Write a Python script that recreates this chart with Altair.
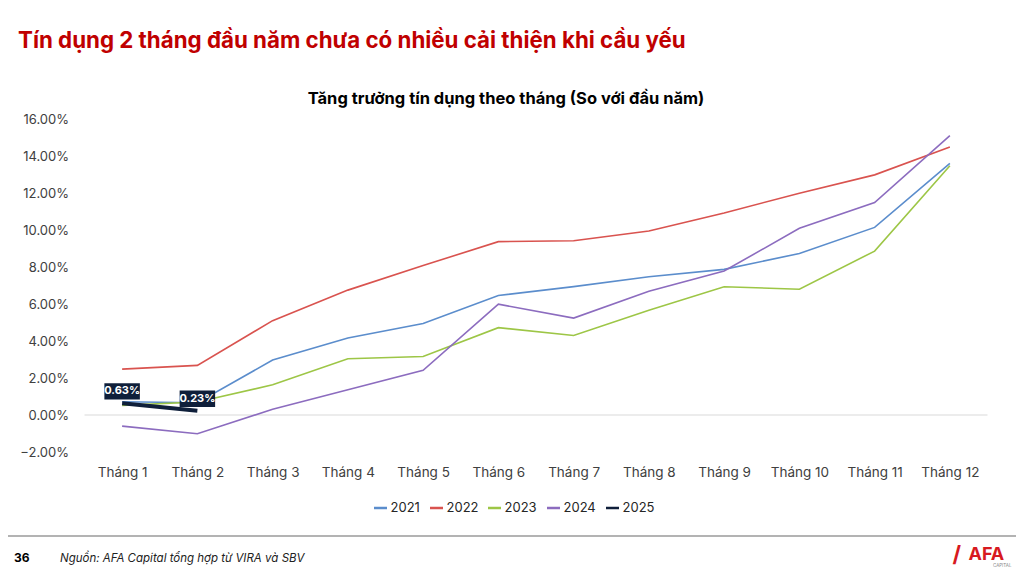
import altair as alt
import pandas as pd

months = ["Tháng 1", "Tháng 2", "Tháng 3", "Tháng 4", "Tháng 5", "Tháng 6",
          "Tháng 7", "Tháng 8", "Tháng 9", "Tháng 10", "Tháng 11", "Tháng 12"]
years = ["2021", "2022", "2023", "2024", "2025"]
v2021 = [0.72, 0.66, 2.97, 4.16, 4.95, 6.46, 6.94, 7.47, 7.87, 8.73, 10.14, 13.60]
v2022 = [2.48, 2.68, 5.10, 6.75, 8.08, 9.37, 9.42, 9.95, 10.92, 11.99, 12.98, 14.48]
v2023 = [0.52, 0.70, 1.63, 3.04, 3.16, 4.72, 4.30, 5.66, 6.93, 6.80, 8.86, 13.47]
v2024 = [-0.60, -1.01, 0.31, 1.36, 2.42, 5.99, 5.24, 6.69, 7.78, 10.09, 11.48, 15.10]
v2025 = [0.63, 0.23]
y_ticks = [-2, 0, 2, 4, 6, 8, 10, 12, 14, 16]

colors = ["#5b8dcc", "#d9534f", "#9dc646", "#8c6cbf", "#0f1f3a"]

series = [v2021, v2022, v2023, v2024, v2025]
rows = []
for yr, vals in zip(years, series):
    for m, v in zip(months, vals):
        rows.append({"year": yr, "month": m, "val": v / 100.0})
df = pd.DataFrame(rows)
df25 = df[df["year"] == "2025"].copy()
df25["label"] = [f"{v:.2f}%" for v in v2025]

FONT = "Inter"

x_axis = alt.Axis(title=None, domain=False, ticks=False, labelAngle=0,
                  labelPadding=13, labelFontSize=13.5, labelColor="#404040",
                  labelFont=FONT)
y_axis = alt.Axis(title=None, domain=False, ticks=False, grid=False,
                  values=[t / 100 for t in y_ticks], format=".2%",
                  labelOverlap=False, labelBound=False,
                  labelPadding=16, labelFontSize=13, labelColor="#404040",
                  labelFont=FONT)
x_scale = alt.Scale(type="point", padding=0.5)
y_scale = alt.Scale(domain=[-0.02, 0.16], nice=False)

def X():
    return alt.X("month:N", sort=months, scale=x_scale, axis=x_axis)

def Y():
    return alt.Y("val:Q", scale=y_scale, axis=y_axis)

zero = alt.Chart(pd.DataFrame({"val": [0.0]})).mark_rule(color="#d9d9d9", strokeWidth=1).encode(
    y=Y())

lines = alt.Chart(df).mark_line().encode(
    x=X(), y=Y(),
    color=alt.Color("year:N", scale=alt.Scale(domain=years, range=colors),
                    legend=alt.Legend(title=None, orient="none", direction="horizontal",
                                      legendX=288, legendY=381, symbolType="stroke",
                                      symbolSize=170, symbolStrokeWidth=2.5,
                                      labelFontSize=13, labelFont=FONT, labelColor="#262626",
                                      columnPadding=4, labelOffset=2)),
    strokeWidth=alt.condition(alt.datum.year == "2025", alt.value(4), alt.value(1.6)),
    detail="year:N",
)

box_shape = "M-1,-0.46H1V0.46H-1Z"
boxes = alt.Chart(df25).mark_point(shape=box_shape, size=1260, filled=True, opacity=1,
                                   color="#0f1f3a").encode(
    x=X(), y=Y(), yOffset=alt.value(-12))
labels = alt.Chart(df25).mark_text(color="white", fontWeight="bold", fontSize=11,
                                   font=FONT, dy=-12).encode(
    x=X(), y=Y(), text="label:N")

def txt(s, x, y, **kw):
    return alt.Chart(pd.DataFrame({"t": [s]})).mark_text(baseline="alphabetic", **kw).encode(
        x=alt.value(x), y=alt.value(y), text="t:N")

headline = txt("Tín dụng 2 tháng đầu năm chưa có nhiều cải thiện khi cầu yếu", -66.5, -71,
               align="left", font=FONT, fontSize=22.3, fontWeight="bold", color="#c00000")
ctitle = txt("Tăng trưởng tín dụng theo tháng (So với đầu năm)", 421.5, -15,
             align="center", font=FONT, fontSize=16.5, fontWeight="bold", color="#000000")
page = txt("36", -70.5, 443, align="left", font=FONT, fontSize=12, fontWeight="bold",
           color="#000000")
source = txt("Nguồn: AFA Capital tổng hợp từ VIRA và SBV", -24.5, 443, align="left",
             font=FONT, fontSize=11.5, fontStyle="italic", color="#222222")
logo_mark = txt("/", 868, 443, align="left", font=FONT, fontSize=22, fontWeight="bold",
                color="#d71920")
logo = txt("AFA", 884, 441, align="left", font=FONT, fontSize=18, fontWeight="bold",
           color="#d71920")
logo2 = txt("CAPITAL", 927, 448, align="right", font=FONT, fontSize=4.5, color="#888888")
footer_rule = alt.Chart(pd.DataFrame({"a": [0]})).mark_rule(color="#9a9a9a", strokeWidth=1.5).encode(
    x=alt.value(-76.5), x2=alt.value(931.5), y=alt.value(417))

chart = alt.layer(zero, lines, boxes, labels, headline, ctitle, page, source, logo_mark, logo,
                  logo2, footer_rule).properties(
    width=903, height=333,
    autosize=alt.AutoSizeParams(type="none"),
    padding={"left": 76.5, "top": 111, "right": 28.5, "bottom": 116},
    background="white",
).configure_view(stroke=None)

chart.save("out.html", embed_options={"renderer": "svg", "actions": False})
